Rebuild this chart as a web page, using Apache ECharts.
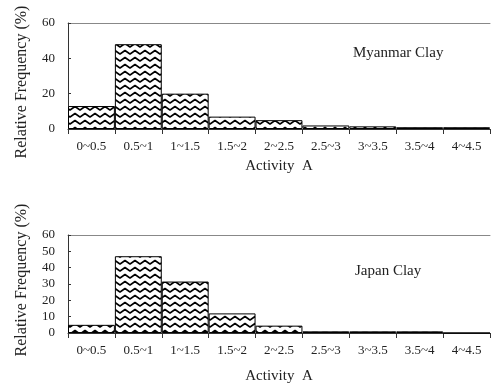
<!DOCTYPE html>
<html><head><meta charset="utf-8">
<script src="https://cdn.jsdelivr.net/npm/echarts@6/dist/echarts.min.js"></script>
<style>html,body{margin:0;padding:0;background:#fff}#c{width:492px;height:385px}</style>
</head><body><div id="c"></div>
<script>
const categories = ['0~0.5','0.5~1','1~1.5','1.5~2','2~2.5','2.5~3','3~3.5','3.5~4','4~4.5'];
const myanmarValues = [13, 48, 20, 7, 5, 2, 1.5, 1, 1];
const japanValues = [5, 47, 31.5, 12, 4.5, 1, 1, 1, 0];
const yTicksTop = [0, 20, 40, 60];
const yTicksBottom = [0, 10, 20, 30, 40, 50, 60];

function makePattern() {
  const c = document.createElement('canvas');
  c.width = 10; c.height = 7;
  const g = c.getContext('2d');
  g.fillStyle = '#fff'; g.fillRect(0, 0, 10, 7);
  g.strokeStyle = '#000'; g.lineWidth = 1.6; g.lineJoin = 'round';
  g.beginPath();
  g.moveTo(-5, 1.5); g.lineTo(0, 5); g.lineTo(5, 1.5); g.lineTo(10, 5); g.lineTo(15, 1.5);
  g.stroke();
  return c;
}
const pat = { image: makePattern(), repeat: 'repeat' };
const font = 'Liberation Serif';
const txt = '#222';

const chart = echarts.init(document.getElementById('c'), null, {renderer: 'canvas'});
function xAxes(gi) {
  return [{
    type: 'category', gridIndex: gi, data: categories, position: 'bottom',
    axisLine: {lineStyle: {color: '#333', width: 1}},
    axisTick: {show: true, alignWithLabel: false, length: 5, lineStyle: {color: '#333'}},
    axisLabel: {fontFamily: font, fontSize: 13, color: txt, margin: 11},
    name: 'Activity  A', nameLocation: 'middle', nameGap: gi === 0 ? 30 : 36,
    nameTextStyle: {fontFamily: font, fontSize: 15, color: txt}
  }, {
    type: 'category', gridIndex: gi, data: categories, position: 'top',
    axisLine: {lineStyle: {color: '#888', width: 1}},
    axisTick: {show: false}, axisLabel: {show: false}
  }];
}
function yAxis(gi, ticks) {
  return {
    type: 'value', gridIndex: gi, min: ticks[0], max: ticks[ticks.length-1],
    interval: ticks[1] - ticks[0],
    axisLine: {show: true, lineStyle: {color: '#333'}},
    axisTick: {show: true, inside: true, length: 3, lineStyle: {color: '#333'}},
    splitLine: {show: false},
    axisLabel: {fontFamily: font, fontSize: 13, color: txt, margin: 13}
  };
}
chart.setOption({
  animation: false,
  grid: [
    {left: 68, right: 2, top: 23, height: 106},
    {left: 68, right: 2, top: 235, height: 103}
  ],
  xAxis: [...xAxes(0), ...xAxes(1)],
  yAxis: [yAxis(0, yTicksTop), yAxis(1, yTicksBottom)],
  series: [
    {type: 'bar', xAxisIndex: 0, yAxisIndex: 0, data: myanmarValues, barCategoryGap: 0,
     itemStyle: {color: pat, borderColor: '#000', borderWidth: 1}},
    {type: 'bar', xAxisIndex: 2, yAxisIndex: 1, data: japanValues, barCategoryGap: 0,
     itemStyle: {color: pat, borderColor: '#000', borderWidth: 1}}
  ],
  graphic: [
    {type: 'text', x: 22, y: 82, rotation: Math.PI / 2,
     style: {text: 'Relative Frequency (%)', font: '16px "Liberation Serif"', fill: txt, align: 'center', verticalAlign: 'middle'}},
    {type: 'text', x: 22, y: 280, rotation: Math.PI / 2,
     style: {text: 'Relative Frequency (%)', font: '16px "Liberation Serif"', fill: txt, align: 'center', verticalAlign: 'middle'}},
    {type: 'text', left: 353, top: 46, style: {text: 'Myanmar Clay', font: '15px "Liberation Serif"', fill: txt}},
    {type: 'text', left: 355, top: 264, style: {text: 'Japan Clay', font: '15px "Liberation Serif"', fill: txt}}
  ]
});
</script></body></html>
